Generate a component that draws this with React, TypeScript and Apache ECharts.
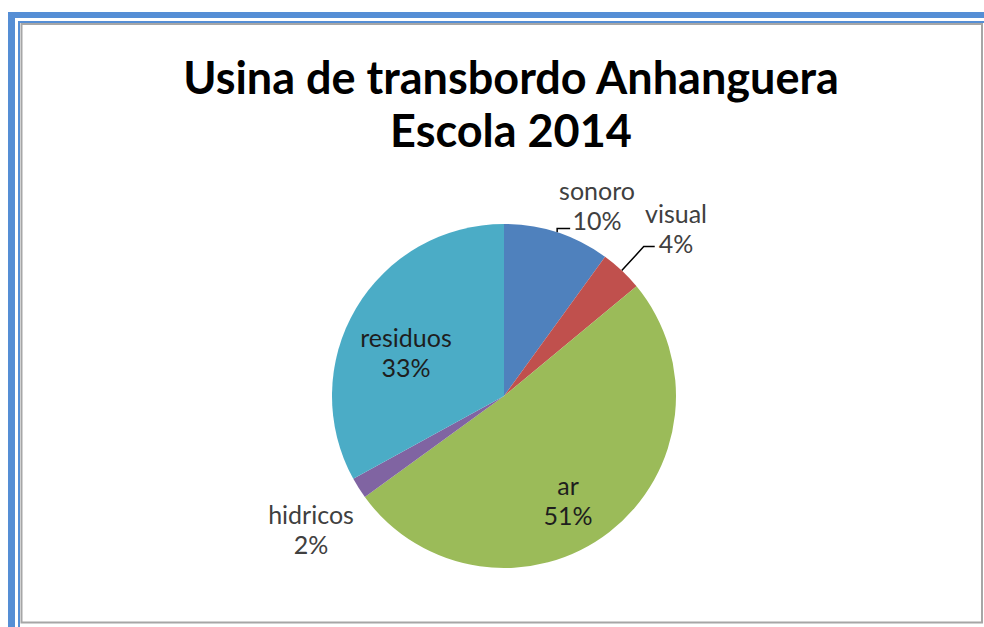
import React, { useEffect, useRef } from "react";
import * as echarts from "echarts";

const titleLines = ["Usina de transbordo Anhanguera", "Escola 2014"];
const categories = ["sonoro", "visual", "ar", "hidricos", "residuos"];
const values = [10, 4, 51, 2, 33];
const colors = ["#4F81BD", "#C0504D", "#9BBB59", "#8064A2", "#4BACC6"];
const showLeader = [true, true, false, false, false];
const insideLabel = [false, false, true, false, true];

export default function App() {
  const ref = useRef<HTMLDivElement>(null);
  useEffect(() => {
    document.body.style.margin = "0";
    const chart = echarts.init(ref.current!, null, { renderer: "svg" });
    const font = "Lato, 'Open Sans', sans-serif";
    chart.setOption({
      animation: false,
      backgroundColor: "#ffffff",
      title: {
        text: titleLines.join("\n"),
        left: 506,
        textAlign: "center",
        top: 45,
        textStyle: {
          fontFamily: font,
          fontWeight: "bold",
          fontSize: 45,
          lineHeight: 53,
          color: "#000000",
        },
      },
      graphic: [
        { type: "rect", shape: { x: 8, y: 12, width: 990, height: 6 }, style: { fill: "#558ED5" } },
        { type: "rect", shape: { x: 8, y: 12, width: 7, height: 640 }, style: { fill: "#558ED5" } },
        { type: "rect", shape: { x: 18, y: 21, width: 980, height: 2 }, style: { fill: "#558ED5" } },
        { type: "rect", shape: { x: 18, y: 21, width: 2, height: 640 }, style: { fill: "#558ED5" } },
        {
          type: "rect",
          shape: { x: 21.5, y: 24, width: 960.5, height: 598.5 },
          style: { fill: "none", stroke: "#A6A6A6", lineWidth: 2 },
        },
      ],
      series: [
        {
          type: "pie",
          center: [504, 396],
          radius: 172,
          startAngle: 90,
          clockwise: true,
          color: colors,
          data: categories.map((name, i) => ({
            name,
            value: values[i],
            labelLine: { show: showLeader[i] },
            label: { color: insideLabel[i] ? "#1e1e1e" : "#404040" },
          })),
          label: {
            show: true,
            position: "outside",
            formatter: "{b}\n{d}%",
            fontFamily: font,
            fontSize: 25,
            lineHeight: 30,
            color: "#404040",
            align: "center",
          },
          labelLine: { show: true, length: 10, length2: 10, lineStyle: { color: "#000000", width: 1.5 } },
          labelLayout: (params: any) => {
            const i = params.dataIndex;
            const p = params.labelLinePoints;
            if (i === 0 && p && p[0]) {
              const p0 = p[0];
              return {
                x: 597, y: 205, align: "center", verticalAlign: "middle",
                labelLinePoints: [p0, [p0[0], p0[1] - 4], [p0[0] + 13, p0[1] - 4]],
              };
            }
            if (i === 1 && p && p[0]) {
              const p0 = p[0];
              return {
                x: 676, y: 228, align: "center", verticalAlign: "middle",
                labelLinePoints: [p0, [p0[0] + 22, p0[1] - 24], [p0[0] + 33, p0[1] - 24]],
              };
            }
            if (i === 2) return { x: 568, y: 500, align: "center", verticalAlign: "middle" };
            if (i === 3) return { x: 311, y: 529, align: "center", verticalAlign: "middle" };
            if (i === 4) return { x: 406, y: 352, align: "center", verticalAlign: "middle" };
            return {};
          },
        },
      ],
    });
    return () => chart.dispose();
  }, []);
  return <div ref={ref} style={{ width: 984, height: 627 }} />;
}
